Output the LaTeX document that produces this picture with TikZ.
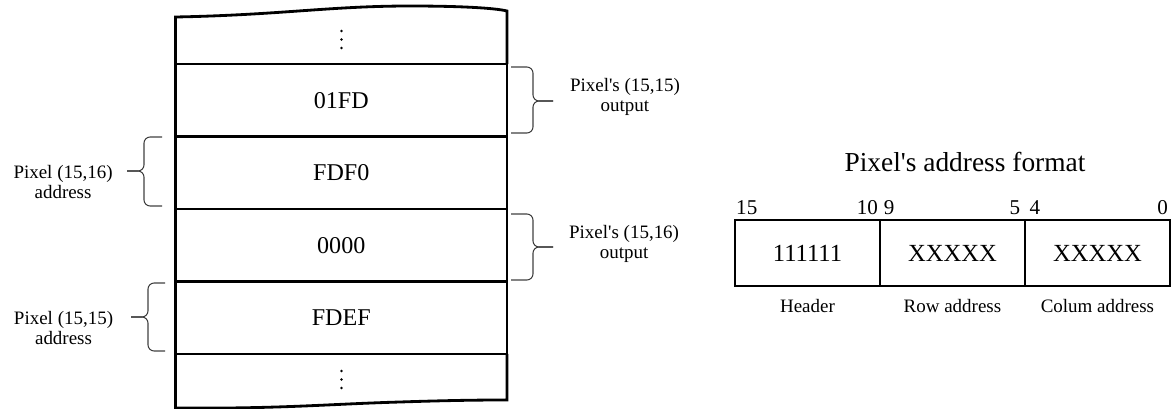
\documentclass[tikz,border=0pt]{standalone}
\usepackage{fontspec}
\setmainfont{Liberation Serif}
\usetikzlibrary{positioning}

\tikzset{
  memline/.style={line width=1.6pt},
  memrow/.style={draw, line width=1.6pt, minimum width=6.63cm, minimum height=1.45cm,
    inner sep=0pt, outer sep=0pt, font=\fontsize{13.7}{16}\selectfont},
  curly/.style={draw=black!75, line width=0.6pt, rounded corners=3.5pt},
  sidelabel/.style={align=center, inner sep=0pt, font=\fontsize{10.8}{11.4}\selectfont},
  field/.style={draw, line width=1.1pt, minimum width=2.9cm, minimum height=1.32cm,
    inner sep=0pt, outer sep=0pt, font=\fontsize{14}{16}\selectfont},
  bitnum/.style={inner sep=0pt, font=\fontsize{12}{14}\selectfont},
  fieldlabel/.style={inner sep=0pt, font=\fontsize{10.8}{12}\selectfont},
}
\newcommand{\apos}{\textquotesingle}

\begin{document}
\begin{tikzpicture}[x=0.02cm, y=-0.02cm]
\useasboundingbox (0,0) rectangle (1171,409);

% memory stack
\node[memrow] (r1) at (341.25,100.25) {01FD};
\node[memrow, below=0pt of r1] (r2) {FDF0};
\node[memrow, below=0pt of r2] (r3) {0000};
\node[memrow, below=0pt of r3] (r4) {FDEF};

\coordinate (tl) at (175.5,17);
\coordinate (tr) at (507,11);
\coordinate (bl) at (175.5,408);
\coordinate (br) at (507,400);

\draw[memline] (r1.north west) -- (tl) .. controls (280,15) and (330,6) .. (410,6)
  .. controls (460,6) and (495,8) .. (tr) -- (r1.north east);
\draw[memline] (r4.south west) -- (bl) .. controls (280,409) and (330,404) .. (400,402)
  .. controls (460,400) and (490,400) .. (br) -- (r4.south east);

% vertical dots
\foreach \k in {0,1,2} {
  \fill (341.5,31+8.5*\k) circle (0.8pt);
  \fill (341.5,371+8.5*\k) circle (0.8pt);
}

% braces on the right (outputs)
\coordinate (o1a) at (511,67);
\coordinate (o1b) at (511,133);
\coordinate (o1m) at (533,101);
\coordinate (o1t) at (553,101);
\draw[curly] (o1a) -| (o1m) -- (o1t);
\draw[curly] (o1b) -| (o1m) -- (o1t);
\node[sidelabel, anchor=west, xshift=9.5pt, yshift=2.5pt] (out1) at (o1t) {Pixel\apos s (15,15)\\output};

\coordinate (o2a) at (511,214);
\coordinate (o2b) at (511,280);
\coordinate (o2m) at (533,247);
\coordinate (o2t) at (553,247);
\draw[curly] (o2a) -| (o2m) -- (o2t);
\draw[curly] (o2b) -| (o2m) -- (o2t);
\node[sidelabel, anchor=west, xshift=9pt, yshift=2pt] (out2) at (o2t) {Pixel\apos s (15,16)\\output};

% braces on the left (addresses)
\coordinate (a1a) at (162,137);
\coordinate (a1b) at (162,206);
\coordinate (a1m) at (144,171);
\coordinate (a1t) at (127,171);
\draw[curly] (a1a) -| (a1m) -- (a1t);
\draw[curly] (a1b) -| (a1m) -- (a1t);
\node[sidelabel, anchor=east, xshift=-8pt, yshift=-6.5pt] (adr1) at (a1t) {Pixel (15,16)\\address};

\coordinate (a2a) at (165,283);
\coordinate (a2b) at (165,351);
\coordinate (a2m) at (148,317);
\coordinate (a2t) at (131,317);
\draw[curly] (a2a) -| (a2m) -- (a2t);
\draw[curly] (a2b) -| (a2m) -- (a2t);
\node[sidelabel, anchor=east, xshift=-10pt, yshift=-6pt] (adr2) at (a2t) {Pixel (15,15)\\address};

% address format
\node[font=\fontsize{15.6}{18}\selectfont] (title) at (965,162) {Pixel\apos s address format};

\node[field] (hdr) at (807.5,253) {111111};
\node[field, right=0pt of hdr] (row) {XXXXX};
\node[field, right=0pt of row] (col) {XXXXX};

\node[bitnum, anchor=south west, xshift=0.5pt, yshift=3pt] (b15) at (hdr.north west) {15};
\node[bitnum, anchor=south east, xshift=-1pt, yshift=3pt] (b10) at (hdr.north east) {10};
\node[bitnum, anchor=south west, xshift=2pt, yshift=3pt] (b9) at (row.north west) {9};
\node[bitnum, anchor=south east, xshift=-2.5pt, yshift=3pt] (b5) at (row.north east) {5};
\node[bitnum, anchor=south west, xshift=2.5pt, yshift=3pt] (b4) at (col.north west) {4};
\node[bitnum, anchor=south east, xshift=-1pt, yshift=3pt] (b0) at (col.north east) {0};

\node[fieldlabel, below=7.5pt of hdr] (lhdr) {Header};
\node[fieldlabel, below=7.5pt of row] (lrow) {Row address};
\node[fieldlabel, below=7.5pt of col] (lcol) {Colum address};
\end{tikzpicture}
\end{document}
